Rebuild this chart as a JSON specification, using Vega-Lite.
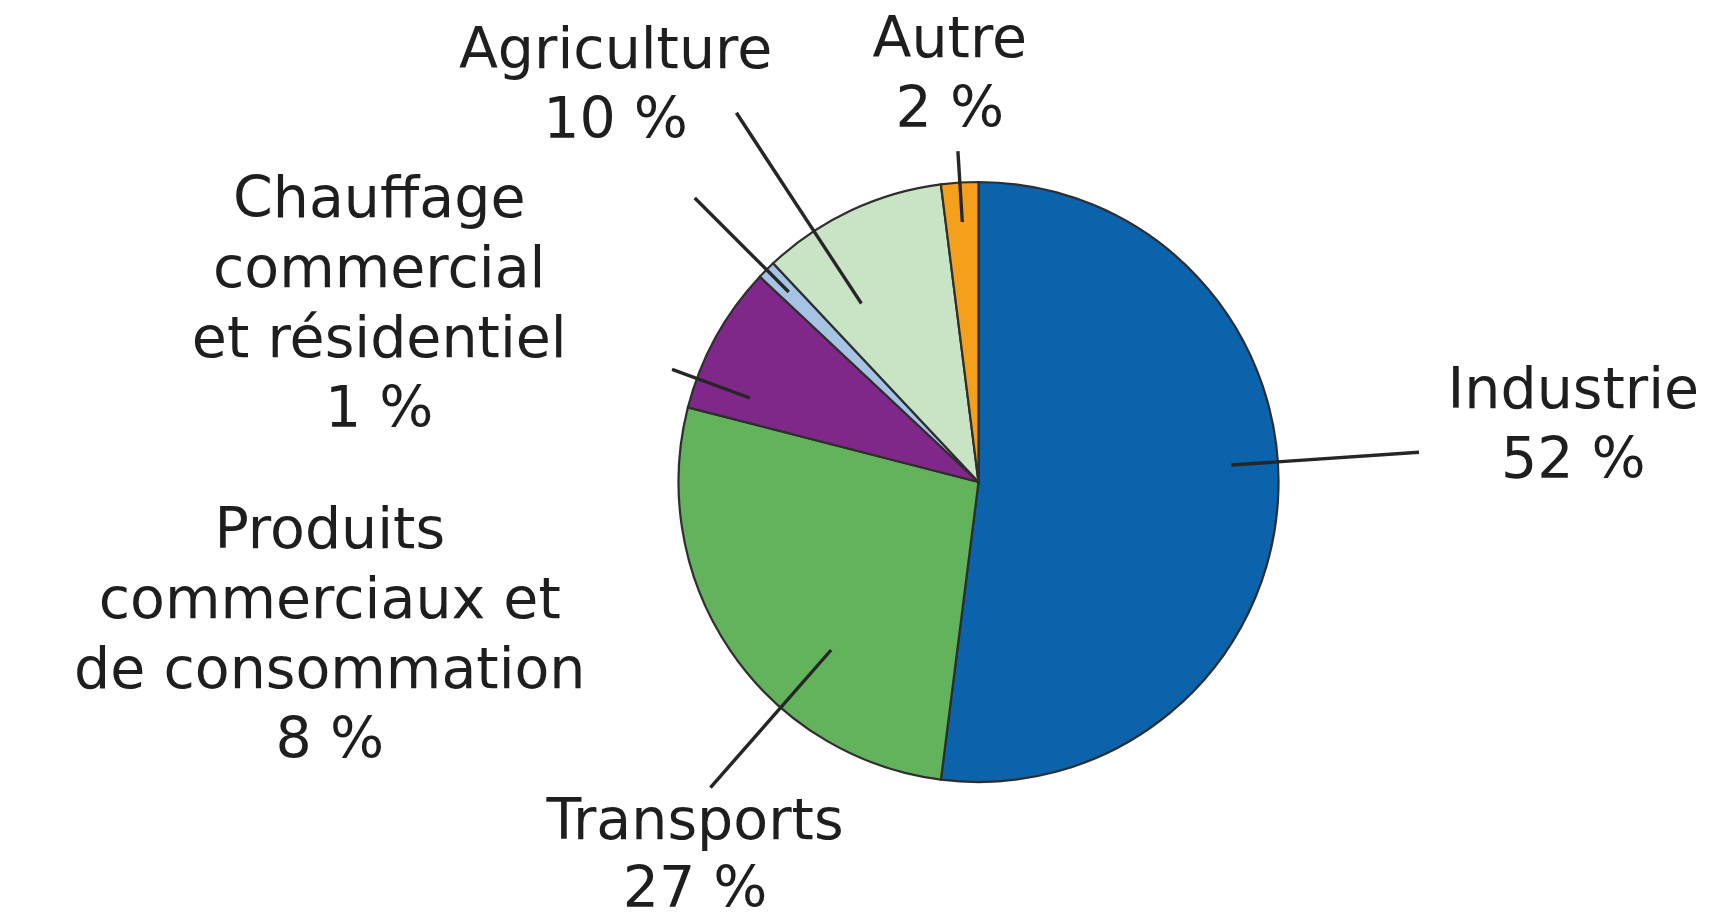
{
  "$schema": "https://vega.github.io/schema/vega-lite/v6.json",
  "width": 1501,
  "height": 874,
  "autosize": {"type": "none"},
  "padding": {"left": 228, "top": 45, "right": 0, "bottom": 0},
  "background": "white",
  "config": {"view": {"stroke": null}},
  "data": {
    "values": [
      {"category": "Industrie", "label": "Industrie\n52 %", "value": 52, "rank": 1},
      {"category": "Transports", "label": "Transports\n27 %", "value": 27, "rank": 2},
      {"category": "Produits", "label": "Produits\ncommerciaux et\nde consommation\n8 %", "value": 8, "rank": 3},
      {"category": "Chauffage", "label": "Chauffage\ncommercial\net résidentiel\n1 %", "value": 1, "rank": 4},
      {"category": "Agriculture", "label": "Agriculture\n10 %", "value": 10, "rank": 5},
      {"category": "Autre", "label": "Autre\n2 %", "value": 2, "rank": 6}
    ]
  },
  "transform": [
    {"stack": "value", "groupby": [], "sort": [{"field": "rank", "order": "ascending"}], "as": ["v0", "v1"]},
    {"calculate": "(datum.v0 + datum.v1) / 2", "as": "mid"}
  ],
  "layer": [
    {
      "mark": {"type": "arc", "radius": 300, "stroke": "#2e2e2e", "strokeWidth": 2.2},
      "encoding": {
        "theta": {"field": "v0", "type": "quantitative", "stack": null, "scale": {"domain": [0, 100]}},
        "theta2": {"field": "v1"},
        "color": {
          "field": "category",
          "type": "nominal",
          "scale": {
            "domain": ["Industrie", "Transports", "Produits", "Chauffage", "Agriculture", "Autre"],
            "range": ["#0a63ab", "#62b35c", "#80288a", "#a6c3e3", "#c9e4c4", "#f5a01a"]
          },
          "legend": null
        }
      }
    },
    {
      "transform": [
        {"filter": "datum.category === 'Industrie'"},
        {"calculate": "datum.v0 + 0.46 * datum.value", "as": "la"},
        {"calculate": "datum.la + 0.02", "as": "la2"}
      ],
      "mark": {"type": "arc", "radius": 440, "radius2": 255, "fill": "#262626", "stroke": "#262626", "strokeWidth": 3},
      "encoding": {
        "theta": {"field": "la", "type": "quantitative", "stack": null, "scale": {"domain": [0, 100]}},
        "theta2": {"field": "la2"}
      }
    },
    {
      "transform": [
        {"filter": "datum.category === 'Transports'"},
        {"calculate": "datum.v0 + 0.35 * datum.value", "as": "la"},
        {"calculate": "datum.la + 0.02", "as": "la2"}
      ],
      "mark": {"type": "arc", "radius": 405, "radius2": 225, "fill": "#262626", "stroke": "#262626", "strokeWidth": 3},
      "encoding": {
        "theta": {"field": "la", "type": "quantitative", "stack": null, "scale": {"domain": [0, 100]}},
        "theta2": {"field": "la2"}
      }
    },
    {
      "transform": [
        {"filter": "datum.category === 'Produits'"},
        {"calculate": "datum.v0 + 0.2 * datum.value", "as": "la"},
        {"calculate": "datum.la + 0.02", "as": "la2"}
      ],
      "mark": {"type": "arc", "radius": 325, "radius2": 245, "fill": "#262626", "stroke": "#262626", "strokeWidth": 3},
      "encoding": {
        "theta": {"field": "la", "type": "quantitative", "stack": null, "scale": {"domain": [0, 100]}},
        "theta2": {"field": "la2"}
      }
    },
    {
      "transform": [
        {"filter": "datum.category === 'Chauffage'"},
        {"calculate": "datum.v0 + 0.5 * datum.value", "as": "la"},
        {"calculate": "datum.la + 0.02", "as": "la2"}
      ],
      "mark": {"type": "arc", "radius": 400, "radius2": 270, "fill": "#262626", "stroke": "#262626", "strokeWidth": 3},
      "encoding": {
        "theta": {"field": "la", "type": "quantitative", "stack": null, "scale": {"domain": [0, 100]}},
        "theta2": {"field": "la2"}
      }
    },
    {
      "transform": [
        {"filter": "datum.category === 'Agriculture'"},
        {"calculate": "datum.v0 + 0.275 * datum.value", "as": "la"},
        {"calculate": "datum.la + 0.02", "as": "la2"}
      ],
      "mark": {"type": "arc", "radius": 440, "radius2": 215, "fill": "#262626", "stroke": "#262626", "strokeWidth": 3},
      "encoding": {
        "theta": {"field": "la", "type": "quantitative", "stack": null, "scale": {"domain": [0, 100]}},
        "theta2": {"field": "la2"}
      }
    },
    {
      "transform": [
        {"filter": "datum.category === 'Autre'"},
        {"calculate": "datum.v0 + 0.5 * datum.value", "as": "la"},
        {"calculate": "datum.la + 0.02", "as": "la2"}
      ],
      "mark": {"type": "arc", "radius": 330, "radius2": 262, "fill": "#262626", "stroke": "#262626", "strokeWidth": 3},
      "encoding": {
        "theta": {"field": "la", "type": "quantitative", "stack": null, "scale": {"domain": [0, 100]}},
        "theta2": {"field": "la2"}
      }
    },
    {
      "transform": [{"filter": "datum.category === 'Industrie'"}],
      "mark": {"type": "text", "radius": 596, "dx": 0, "dy": -111, "align": "center", "baseline": "alphabetic", "font": "DejaVu Sans", "fontSize": 57, "lineHeight": 70, "lineBreak": "\n", "fill": "#1e1e1e"},
      "encoding": {
        "theta": {"field": "mid", "type": "quantitative", "stack": null, "scale": {"domain": [0, 100]}},
        "text": {"field": "label"}
      }
    },
    {
      "transform": [{"filter": "datum.category === 'Transports'"}],
      "mark": {"type": "text", "radius": 460, "dx": 97, "dy": 98, "align": "center", "baseline": "alphabetic", "font": "DejaVu Sans", "fontSize": 57, "lineHeight": 68, "lineBreak": "\n", "fill": "#1e1e1e"},
      "encoding": {
        "theta": {"field": "mid", "type": "quantitative", "stack": null, "scale": {"domain": [0, 100]}},
        "text": {"field": "label"}
      }
    },
    {
      "transform": [{"filter": "datum.category === 'Produits'"}],
      "mark": {"type": "text", "radius": 560, "dx": -158, "dy": 336, "align": "center", "baseline": "alphabetic", "font": "DejaVu Sans", "fontSize": 57, "lineHeight": 70, "lineBreak": "\n", "fill": "#1e1e1e"},
      "encoding": {
        "theta": {"field": "mid", "type": "quantitative", "stack": null, "scale": {"domain": [0, 100]}},
        "text": {"field": "label"}
      }
    },
    {
      "transform": [{"filter": "datum.category === 'Chauffage'"}],
      "mark": {"type": "text", "radius": 600, "dx": -175, "dy": 159, "align": "center", "baseline": "alphabetic", "font": "DejaVu Sans", "fontSize": 57, "lineHeight": 70, "lineBreak": "\n", "fill": "#1e1e1e"},
      "encoding": {
        "theta": {"field": "mid", "type": "quantitative", "stack": null, "scale": {"domain": [0, 100]}},
        "text": {"field": "label"}
      }
    },
    {
      "transform": [{"filter": "datum.category === 'Agriculture'"}],
      "mark": {"type": "text", "radius": 500, "dx": -150, "dy": 38, "align": "center", "baseline": "alphabetic", "font": "DejaVu Sans", "fontSize": 57, "lineHeight": 70, "lineBreak": "\n", "fill": "#1e1e1e"},
      "encoding": {
        "theta": {"field": "mid", "type": "quantitative", "stack": null, "scale": {"domain": [0, 100]}},
        "text": {"field": "label"}
      }
    },
    {
      "transform": [{"filter": "datum.category === 'Autre'"}],
      "mark": {"type": "text", "radius": 425, "dx": -2, "dy": -1, "align": "center", "baseline": "alphabetic", "font": "DejaVu Sans", "fontSize": 57, "lineHeight": 70, "lineBreak": "\n", "fill": "#1e1e1e"},
      "encoding": {
        "theta": {"field": "mid", "type": "quantitative", "stack": null, "scale": {"domain": [0, 100]}},
        "text": {"field": "label"}
      }
    }
  ]
}
